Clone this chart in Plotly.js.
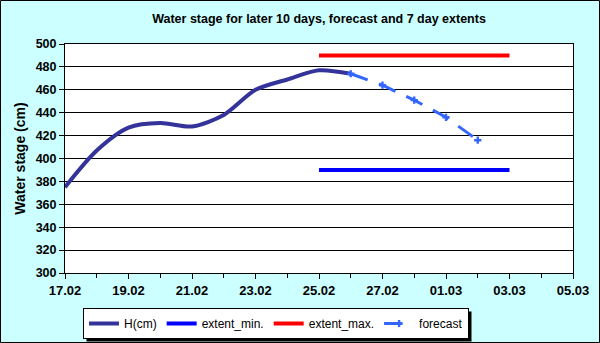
<!DOCTYPE html>
<html><head><meta charset="utf-8">
<script src="https://cdn.plot.ly/plotly-3.0.1.min.js"></script>
<style>html,body{margin:0;padding:0;background:#ccffff}#c{width:600px;height:343px}</style>
</head><body><div id="c"></div>
<script>
var hDates = ['2013-02-17','2013-02-18','2013-02-19','2013-02-20','2013-02-21','2013-02-22','2013-02-23','2013-02-24','2013-02-25','2013-02-26'];
var hValues = [375, 407, 427, 431, 428, 438, 460, 469, 477, 474];
var fcDates = ['2013-02-26','2013-02-27','2013-02-28','2013-03-01','2013-03-02'];
var fcValues = [474, 464, 451, 436, 416];
var extDates = ['2013-02-25','2013-03-03'];
var extMin = [390, 390];
var extMax = [490, 490];

var F = 'Liberation Sans, Arial, sans-serif';
var traces = [
  {x: hDates, y: hValues, name: 'H(cm)', mode: 'lines', line: {color: '#333399', width: 4, shape: 'spline', smoothing: 0.8}},
  {x: extDates, y: extMin, name: 'extent_min.', mode: 'lines', line: {color: '#0000ff', width: 4}},
  {x: extDates, y: extMax, name: 'extent_max.', mode: 'lines', line: {color: '#ff0000', width: 4}},
  {x: fcDates, y: fcValues, name: 'forecast', mode: 'lines+markers', line: {color: '#3366ff', width: 3, dash: '18px,12px'},
   marker: {symbol: 'cross', size: 6, color: '#3366ff'}}
];
var W = 508, H = 229;
var layout = {
  width: 600, height: 343,
  margin: {l: 65, r: 27, t: 44, b: 70},
  paper_bgcolor: '#ccffff', plot_bgcolor: '#ffffff',
  font: {family: F, color: '#000', size: 12},
  title: {text: '<b>Water stage for later 10 days, forecast and 7 day extents</b>', x: 0.5, xref: 'paper', xanchor: 'center', y: 1, yref: 'container', yanchor: 'top', pad: {t: 14}, font: {size: 12.5, family: F}},
  xaxis: {type: 'date', range: ['2013-02-17', '2013-03-05'], dtick: 2*86400000, tick0: '2013-02-17', tickformat: '%d.%m',
    ticks: 'outside', ticklen: 5, tickcolor: '#000', showgrid: false, showline: true, linecolor: '#000', linewidth: 1, mirror: true,
    tickfont: {size: 13, family: F, weight: 'bold'},
    minor: {dtick: 86400000, ticks: 'outside', ticklen: 4, tickcolor: '#000', showgrid: false}, zeroline: false, automargin: false},
  yaxis: {range: [300, 500], dtick: 20, ticks: 'outside', ticklen: 5, tickcolor: '#000', showgrid: true, gridcolor: '#000', gridwidth: 1,
    showline: true, linecolor: '#000', mirror: true, zeroline: false, automargin: false,
    tickfont: {size: 12.5, family: F, weight: 'bold'},
    title: {text: '<b>Water stage (cm)</b>', font: {size: 14, family: F}, standoff: 6}},
  showlegend: true,
  legend: {orientation: 'h', xref: 'container', yref: 'container', x: 83/600, xanchor: 'left', y: (343-339)/343, yanchor: 'bottom', bgcolor: '#ffffff', bordercolor: '#000', borderwidth: 1,
    font: {size: 12, family: F}, tracegroupgap: 0, itemwidth: 30},
  shapes: [
    {type: 'rect', xref: 'paper', yref: 'paper', x0: (0.5-65)/W, x1: (599.5-65)/W, y0: (273-342.5)/H, y1: (273-0.5)/H, line: {color: '#000', width: 1}, fillcolor: 'rgba(0,0,0,0)', layer: 'below'}
  ]
};
Plotly.newPlot('c', traces, layout, {staticPlot: true, displayModeBar: false}).then(function(gd){
  var bg = gd.querySelector('.legend .bg');
  if (!bg) return;
  var r = bg.getBoundingClientRect();
  var s = layout.shapes.slice();
  s.push({type: 'rect', xref: 'paper', yref: 'paper', x0: (r.left+3-65)/W, x1: (r.right+3-65)/W, y0: (273-(r.bottom+3))/H, y1: (273-(r.top+3))/H, fillcolor: '#000', line: {width: 0}, layer: 'below'});
  return Plotly.relayout(gd, {shapes: s});
});
</script></body></html>
